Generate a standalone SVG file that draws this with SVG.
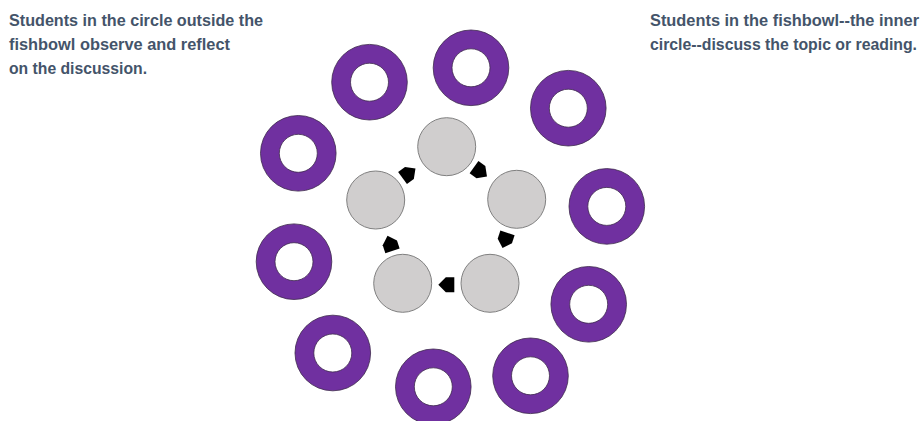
<svg xmlns="http://www.w3.org/2000/svg" width="924" height="421" viewBox="0 0 924 421">
<defs>
<style>
.t{font-family:"Liberation Sans",Arial,sans-serif;font-weight:bold;font-size:16px;fill:#44546A}
.ring{fill:#7030A0;fill-rule:evenodd;stroke:#3d2a4d;stroke-width:0.8}
.seat{fill:#D0CECE;stroke:#808080;stroke-width:1}
.arr{fill:#000}
</style>
<path id="ringShape" d="M -37.8 0 A 37.8 37.8 0 1 0 37.8 0 A 37.8 37.8 0 1 0 -37.8 0 Z M -19 0 A 19 19 0 1 1 19 0 A 19 19 0 1 1 -19 0 Z"/>
<polygon id="arrShape" points="-8,-7.5 0.5,-7.5 8,0 0.5,7.5 -8,7.5"/>
</defs>
<rect width="924" height="421" fill="#ffffff"/>
<g id="text-left">
<text class="t" x="9" y="26" textLength="254" lengthAdjust="spacingAndGlyphs">Students in the circle outside the</text>
<text class="t" x="9" y="50" textLength="221" lengthAdjust="spacingAndGlyphs">fishbowl observe and reflect</text>
<text class="t" x="9" y="74" textLength="138" lengthAdjust="spacingAndGlyphs">on the discussion.</text>
</g>
<g id="text-right">
<text class="t" x="650" y="26" textLength="269" lengthAdjust="spacingAndGlyphs">Students in the fishbowl--the inner</text>
<text class="t" x="650" y="50" textLength="267" lengthAdjust="spacingAndGlyphs">circle--discuss the topic or reading.</text>
</g>
<g id="outer-circle">
<use id="ring1" href="#ringShape" class="ring" transform="translate(369.5,82.2)"/>
<use id="ring2" href="#ringShape" class="ring" transform="translate(471,67.8)"/>
<use id="ring3" href="#ringShape" class="ring" transform="translate(568.3,108.2)"/>
<use id="ring4" href="#ringShape" class="ring" transform="translate(606.8,206.4)"/>
<use id="ring5" href="#ringShape" class="ring" transform="translate(588.7,304.3)"/>
<use id="ring6" href="#ringShape" class="ring" transform="translate(530.5,375.8)"/>
<use id="ring7" href="#ringShape" class="ring" transform="translate(433.3,386.8)"/>
<use id="ring8" href="#ringShape" class="ring" transform="translate(332.8,353)"/>
<use id="ring9" href="#ringShape" class="ring" transform="translate(294,261.7)"/>
<use id="ring10" href="#ringShape" class="ring" transform="translate(298.3,153.3)"/>
</g>
<g id="inner-circle">
<circle id="seat1" class="seat" cx="446.7" cy="146.7" r="29"/>
<circle id="seat2" class="seat" cx="516.7" cy="199.3" r="29"/>
<circle id="seat3" class="seat" cx="490" cy="283.3" r="29"/>
<circle id="seat4" class="seat" cx="402.7" cy="283.3" r="29"/>
<circle id="seat5" class="seat" cx="375.7" cy="200" r="29"/>
</g>
<g id="connectors">
<use href="#arrShape" class="arr" transform="translate(480.5,171.8) rotate(36)"/>
<use href="#arrShape" class="arr" transform="translate(505,240.5) rotate(108)"/>
<use href="#arrShape" class="arr" transform="translate(446.3,284.8) rotate(180)"/>
<use href="#arrShape" class="arr" transform="translate(390,243.3) rotate(252)"/>
<use href="#arrShape" class="arr" transform="translate(409,173.3) rotate(324)"/>
</g>
</svg>
